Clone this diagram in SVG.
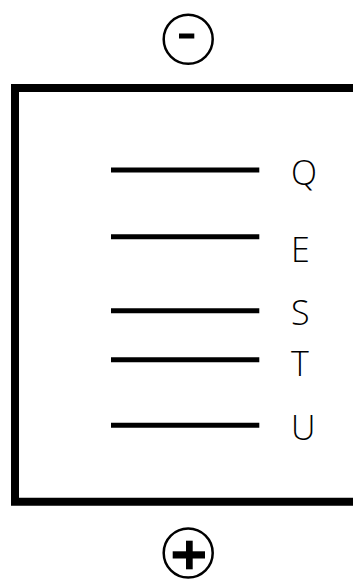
<svg xmlns="http://www.w3.org/2000/svg" width="353" height="581" viewBox="0 0 353 581">
<style>
.frame{fill:none;stroke:#000;stroke-width:8}
.plate{stroke:#000;stroke-width:5}
.lbl{font-family:"Open Sans","Liberation Sans",sans-serif;font-size:34px;font-weight:300;fill:#000}
.term{fill:#fff;stroke:#000;stroke-width:2.5}
</style>
<rect width="353" height="581" fill="#fff"/>
<g id="box"><path class="frame" d="M353,88 H15 V501.7 H353"/></g>
<g id="minus">
<circle class="term" cx="188.2" cy="39.2" r="24.5"/>
<rect x="179" y="33.5" width="15.3" height="5" fill="#000"/>
</g>
<g id="plus">
<circle class="term" cx="188.2" cy="553" r="24.5"/>
<rect x="186" y="540.7" width="6.7" height="28.6" fill="#000"/>
<rect x="172.7" y="551.3" width="32.3" height="7.2" fill="#000"/>
</g>
<g id="connectors">
<line class="plate" x1="111" y1="170" x2="259.3" y2="170"/>
<line class="plate" x1="111" y1="236.7" x2="259.3" y2="236.7"/>
<line class="plate" x1="111" y1="310.7" x2="259.3" y2="310.7"/>
<line class="plate" x1="111" y1="359.7" x2="259.3" y2="359.7"/>
<line class="plate" x1="111" y1="425.3" x2="259.3" y2="425.3"/>
</g>
<g id="labels">
<text class="lbl" x="291" y="185">Q</text>
<text class="lbl" x="291" y="261.7">E</text>
<text class="lbl" x="291" y="325">S</text>
<text class="lbl" x="291" y="376">T</text>
<text class="lbl" x="291" y="440">U</text>
</g>
</svg>
